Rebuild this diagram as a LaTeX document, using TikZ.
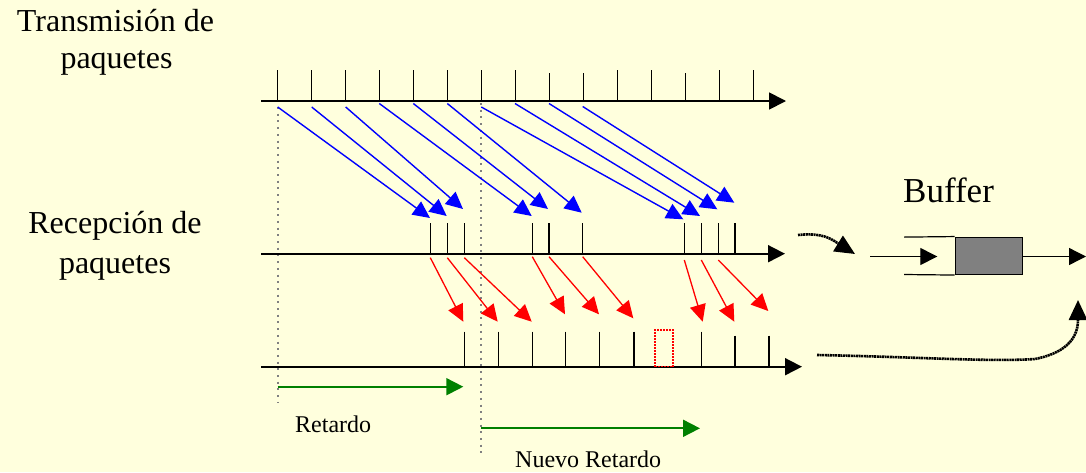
\documentclass[tikz,border=0pt]{standalone}
\usepackage{fontspec}
\setmainfont{Liberation Serif}
\usetikzlibrary{arrows.meta}
\definecolor{paper}{RGB}{255,255,221}
\definecolor{guidegray}{RGB}{128,128,128}
\definecolor{storegray}{RGB}{128,128,128}
\definecolor{delaygreen}{RGB}{0,128,0}
\definecolor{lostred}{RGB}{255,0,0}

\begin{document}
\begin{tikzpicture}[x=1pt,y=-1pt,
  axis/.style={line width=1.8pt, -{Triangle[length=17pt,width=17pt]}},
  tick/.style={line width=1.3pt},
  sent/.style={blue, line width=1.4pt, -{Triangle[length=17pt,width=16pt]}},
  played/.style={red, line width=1.3pt, -{Triangle[length=17pt,width=16pt]}},
  delay/.style={delaygreen, line width=1.8pt, -{Triangle[length=17pt,width=17pt]}},
  guide/.style={guidegray, line width=2pt, dash pattern=on 2pt off 4.7pt},
  flow/.style={line width=2.6pt, dash pattern=on 2pt off 0.6pt, -{Triangle[length=20pt,width=18pt]}},
  plain/.style={line width=1.3pt, -{Triangle[length=17pt,width=17pt]}},
  lbl/.style={inner sep=0pt, anchor=base},
]
% background and page size
\fill[paper] (0,0) rectangle (1086,472);
\useasboundingbox (0,0) rectangle (1086,472);

% side labels
\node[lbl, font=\fontsize{32}{36}\selectfont] (tx1) at (115.5,31.7) {Transmisión de};
\node[lbl, font=\fontsize{32}{36}\selectfont] (tx2) at (116.5,68.5) {paquetes};
\node[lbl, font=\fontsize{32}{36}\selectfont] (rx1) at (115,233.3) {Recepción de};
\node[lbl, font=\fontsize{32}{36}\selectfont] (rx2) at (115,273) {paquetes};

% vertical guides marking the playout instants
\coordinate (g1a) at (277.7,107);
\coordinate (g1b) at (277.7,403);
\coordinate (g2a) at (481,103);
\coordinate (g2b) at (481,457);
\draw[guide] (g1a) -- (g1b);
\draw[guide] (g2a) -- (g2b);

% transmission time line
\coordinate (topL) at (261,101);
\coordinate (topR) at (786,101);
\draw[axis] (topL) -- (topR);
\foreach \k/\h in {0/70,1/70,2/70,3/70,4/70,5/70,6/70,7/70,8/73,9/73,10/70,11/70,12/73,13/70,14/70}{
  \draw[tick] (277.7+34*\k,\h) -- (277.7+34*\k,101);
}

% reception time line
\coordinate (midL) at (261,253.7);
\coordinate (midR) at (785,253.7);
\draw[axis] (midL) -- (midR);
\foreach \x in {430.3,447.3,464.3,532.3,549,582.7,684.3,701.3,718.3,735}{
  \draw[tick] (\x,223) -- (\x,253.7);
}

% playout time line
\coordinate (botL) at (261,366.7);
\coordinate (botR) at (802,366.7);
\draw[axis] (botL) -- (botR);
\foreach \x/\h in {464.3/331.7,498.3/331.7,532.3/331.7,565.7/331.7,599.3/331.7,634/331.7,701.7/331.7,735/335.7,769/335.7}{
  \draw[tick] (\x,\h) -- (\x,366.7);
}
% lost packet slot
\node[draw=lostred, line width=1.3pt, dash pattern=on 1.5pt off 1.5pt, minimum width=18pt, minimum height=36.7pt, inner sep=0pt] (lost) at (664,348.4) {};

% network transit of each packet
\foreach \i/\sx/\sy/\ex/\ey in {0/277.7/107/430/218, 1/311.7/107/446.7/216, 2/345.7/107/463/209,
    3/379.3/103.5/531.7/216, 4/413.3/103.5/548/209, 5/447.3/103.5/581.7/212.7,
    6/481.3/107/683.3/219.3, 7/515/103.5/700/216, 8/549/103.5/717.3/209.3, 9/582.7/106.5/734.3/202.7}{
  \coordinate (s\i) at (\sx,\sy);
  \coordinate (e\i) at (\ex,\ey);
  \draw[sent] (s\i) -- (e\i);
}

% buffer release to playout
\foreach \i/\sx/\sy/\ex/\ey in {0/430.3/257.7/463.3/321.7, 1/447.3/257.7/497.7/321.7, 2/464.3/257.7/531.7/321.7,
    3/532.3/256.7/565/314.3, 4/549/256.7/599/314.3, 5/582.7/256.7/633.3/318.3,
    6/684.3/260/702.7/321.7, 7/701.3/260/734.3/321.7, 8/718.3/260/768.3/311}{
  \coordinate (p\i) at (\sx,\sy);
  \coordinate (q\i) at (\ex,\ey);
  \draw[played] (p\i) -- (q\i);
}

% delays
\coordinate (d1a) at (277.7,386.7);
\coordinate (d1b) at (463.3,386.7);
\draw[delay] (d1a) -- (d1b);
\node[lbl, anchor=base west, font=\fontsize{24}{28}\selectfont] (ret) at (295,432.7) {Retardo};
\coordinate (d2a) at (481,428.3);
\coordinate (d2b) at (700,428.3);
\draw[delay] (d2a) -- (d2b);
\node[lbl, anchor=base west, font=\fontsize{24}{28}\selectfont] (nret) at (515,467) {Nuevo Retardo};

% buffer
\node[lbl, anchor=base west, font=\fontsize{35}{40}\selectfont] (buf) at (903,202.7) {Buffer};
\node[draw, fill=storegray, line width=1.2pt, minimum width=67.7pt, minimum height=37.3pt, inner sep=0pt] (store) at (989,255.8) {};
\coordinate (tubeT) at (904,237.1);
\coordinate (tubeB) at (904,274.5);
\draw[line width=1.2pt] (tubeT) -- (store.north west);
\draw[line width=1.2pt] (tubeB) -- (store.south west);
\coordinate (inA) at (870,256.5);
\coordinate (inB) at (937.3,256.5);
\draw[plain] (inA) -- (inB);
\coordinate (outB) at (1086,256.5);
\draw[plain] (store.east |- inA) -- (outB);

% flows into and out of the buffer
\coordinate (fa) at (798,235);
\coordinate (fb) at (855,254);
\draw[flow] (fa) .. controls (825,232) and (834,241) .. (fb);
\coordinate (ga) at (817,355);
\coordinate (gm) at (1035,359);
\coordinate (gb) at (1078,300);
\draw[flow] (ga) .. controls (920,357) and (990,362) .. (gm) .. controls (1070,352) and (1078,335) .. (gb);
\end{tikzpicture}
\end{document}
